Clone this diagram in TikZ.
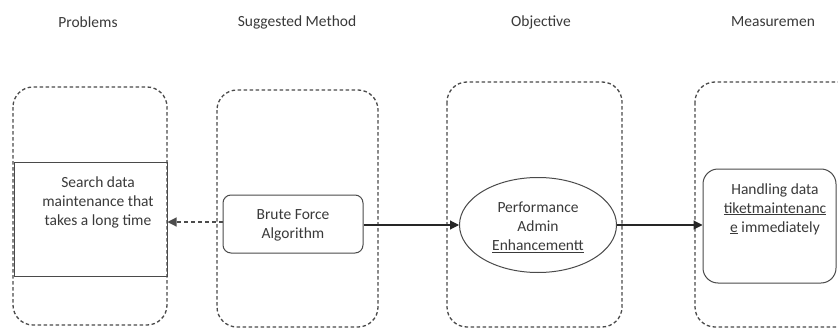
\documentclass[tikz,border=0pt]{standalone}
\usepackage{fontspec}
\setmainfont{Carlito}
\usetikzlibrary{shapes.geometric,arrows.meta}
\definecolor{txt}{HTML}{3A3A3A}
\definecolor{edge}{HTML}{4A4A4A}
\tikzset{
  container/.style={draw=edge, line width=1.3pt, dash pattern=on 3.5pt off 2.5pt, rounded corners=20pt},
  lbl/.style={text=txt, font=\fontsize{15.5}{19}\selectfont, align=center, inner sep=0pt},
  boxshape/.style={draw=edge, line width=1pt, inner sep=0pt},
  conn/.style={line width=1.1pt, draw=black!85, -{Triangle[length=9pt,width=9pt]}},
  dconn/.style={conn, dash pattern=on 4pt off 3pt, draw=black!70}
}
\begin{document}
\begin{tikzpicture}[x=1pt,y=-1pt]
\useasboundingbox (0,0) rectangle (838,329);
\fill[white] (0,0) rectangle (838,329);
\clip (0,0) rectangle (838,329);
% titles
\node[lbl] (t1) at (88,22) {Problems};
\node[lbl] (t2) at (297,22) {Suggested Method};
\node[lbl] (t3) at (541,22) {Objective};
\node[lbl] (t4) at (773,22) {Measuremen};
% containers
\draw[container] (13,87) rectangle (167,325);
\draw[container] (217,90) rectangle (378,327);
\draw[container] (447,82) rectangle (622,327);
\draw[container] (695,82) rectangle (870,327);
% nodes
\node[boxshape, minimum width=153pt, minimum height=114pt] (prob) at (90.5,219) {};
\node[lbl] (probtxt) at (98,202) {Search data\\maintenance that\\takes a long time};
\node[boxshape, rounded corners=8pt, minimum width=140pt, minimum height=58pt] (brute) at (293,224) {};
\node[lbl] (brutetxt) at (293,225) {Brute Force\\Algorithm};
\node[boxshape, ellipse, minimum width=157pt, minimum height=95pt] (obj) at (538,225) {};
\node[lbl] (objtxt) at (538,227) {Performance\\Admin\\\underline{Enhancementt}};
\node[boxshape, rounded corners=15pt, minimum width=133pt, minimum height=114pt] (meas) at (769.5,226) {};
\node[lbl] (meastxt) at (775,209) {Handling data\\\underline{tiketmaintenanc}\\\underline{e} immediately};
% connectors
\draw[dconn] (brute.west |- 0,222) -- (prob.east |- 0,222);
\draw[conn] (brute.east |- 0,225) -- (obj.west);
\draw[conn] (obj.east) -- (meas.west |- 0,225);
\end{tikzpicture}
\end{document}
